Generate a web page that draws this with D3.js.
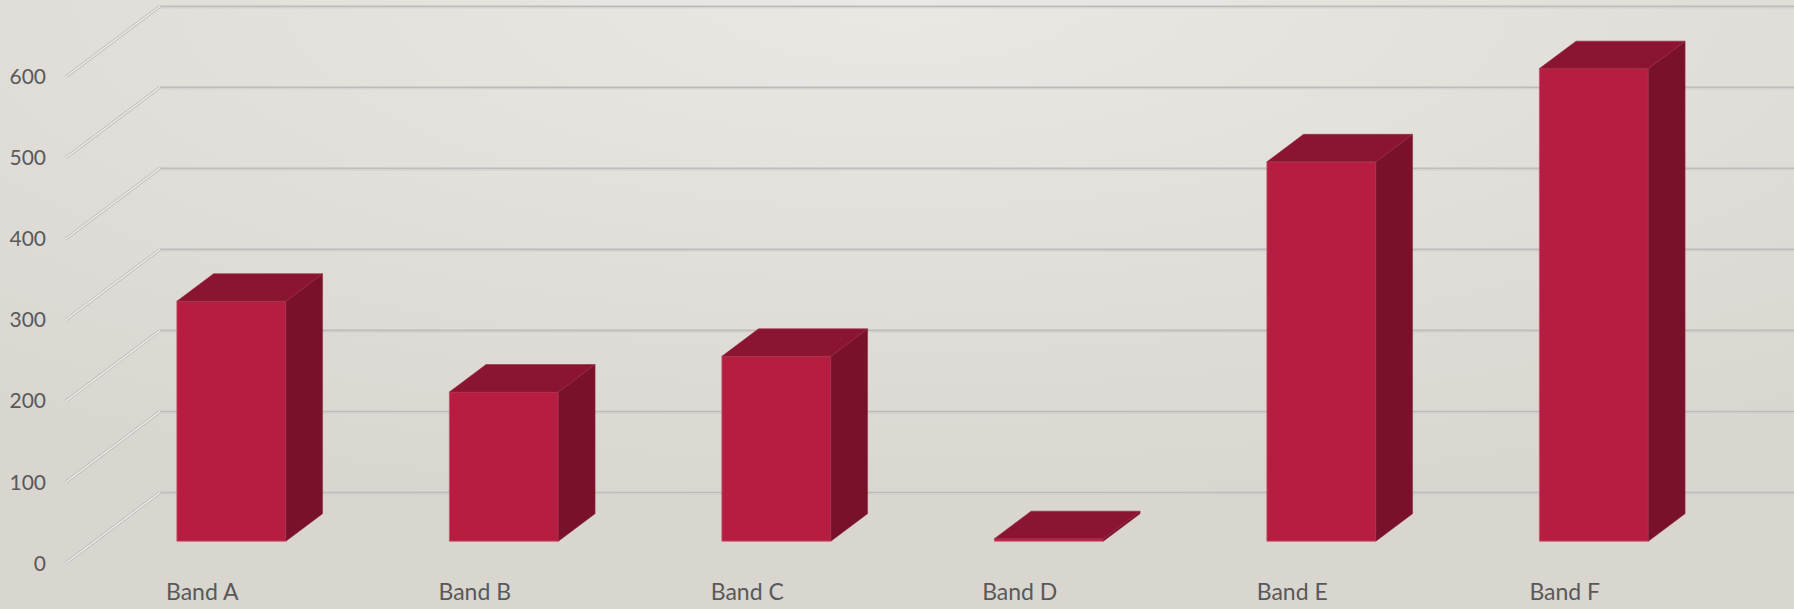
<html>
<head>
<style>
body { margin: 0; overflow: hidden; }
.tick-label { font-family: Lato, "Open Sans", sans-serif; font-size: 21px; fill: #595959; }
.cat-label { font-family: Lato, "Open Sans", sans-serif; font-size: 23px; fill: #595959; }
</style>
</head>
<body>
<svg width="1794" height="609"></svg>
<script src="https://d3js.org/d3.v7.min.js"></script>
<script>
var categories = ["Band A", "Band B", "Band C", "Band D", "Band E", "Band F"]
var values = [296, 184, 228, 3, 468, 583]
var yTicks = [0, 100, 200, 300, 400, 500, 600]

const width = 1794
const height = 609

// oblique 3d: front plane origin and full depth offset
const x0 = 66
const depthX = 94
const depthY = -70.5
const barZ0 = 0.31
const barZ1 = 0.70

const svg = d3.select('svg')

const defs = svg.append('defs')
const grad = defs.append('radialGradient')
    .attr('id', 'bg')
    .attr('cx', '50%').attr('cy', '0%').attr('r', '85%')
grad.append('stop').attr('offset', '0%').attr('stop-color', '#eae8e4')
grad.append('stop').attr('offset', '100%').attr('stop-color', '#d9d6d0')

svg.append('rect')
    .attr('width', width).attr('height', height)
    .attr('fill', 'url(#bg)')

const x = d3.scaleBand()
    .domain(categories)
    .range([0, 1635])
    .paddingInner(0.6)
    .paddingOuter(0.3)

const y = d3.scaleLinear()
    .domain([0, 600])
    .range([563, 76.7])

function proj(xu, v, z) {
    return [x0 + xu + z * depthX, y(v) + z * depthY]
}

// back wall grid lines
const grid = svg.append('g')
grid.selectAll('.gl')
    .data(yTicks)
    .enter().append('line')
    .attr('x1', x0 + depthX).attr('x2', width)
    .attr('y1', function (d) { return y(d) + depthY })
    .attr('y2', function (d) { return y(d) + depthY })
    .attr('stroke', '#bcbcbc')
    .attr('stroke-width', 1.6)
grid.selectAll('.gl2')
    .data(yTicks)
    .enter().append('line')
    .attr('x1', x0 + depthX).attr('x2', width)
    .attr('y1', function (d) { return y(d) + depthY + 1.6 })
    .attr('y2', function (d) { return y(d) + depthY + 1.6 })
    .attr('stroke', '#cfcdca')
    .attr('stroke-width', 1)

// side wall diagonals (embossed double line)
grid.selectAll('.diag')
    .data(yTicks)
    .enter().append('line')
    .attr('x1', x0).attr('y1', function (d) { return y(d) })
    .attr('x2', x0 + depthX).attr('y2', function (d) { return y(d) + depthY })
    .attr('stroke', '#bdbdbd')
    .attr('stroke-width', 3)
grid.selectAll('.diag2')
    .data(yTicks)
    .enter().append('line')
    .attr('x1', x0).attr('y1', function (d) { return y(d) })
    .attr('x2', x0 + depthX).attr('y2', function (d) { return y(d) + depthY })
    .attr('stroke', '#f2f1ee')
    .attr('stroke-width', 1.2)

// tick labels
svg.append('g').selectAll('text')
    .data(yTicks)
    .enter().append('text')
    .attr('class', 'tick-label')
    .attr('x', 46)
    .attr('y', function (d) { return y(d) })
    .attr('dy', '0.36em')
    .attr('text-anchor', 'end')
    .text(function (d) { return d })

// bars
const bars = svg.append('g').selectAll('g')
    .data(categories.map(function (c, i) { return { cat: c, value: values[i] } }))
    .enter().append('g')

function pts(arr) { return arr.map(function (p) { return p.join(',') }).join(' ') }

bars.append('polygon')
    .attr('points', function (d) {
        const l = x(d.cat), r = x(d.cat) + x.bandwidth()
        return pts([proj(l, 0, barZ0), proj(r, 0, barZ0), proj(r, d.value, barZ0), proj(l, d.value, barZ0)])
    })
    .attr('fill', '#b71d41')
    .attr('stroke', '#c9536d')
    .attr('stroke-width', 0.8)

bars.append('polygon')
    .attr('points', function (d) {
        const r = x(d.cat) + x.bandwidth()
        return pts([proj(r, 0, barZ0), proj(r, 0, barZ1), proj(r, d.value, barZ1), proj(r, d.value, barZ0)])
    })
    .attr('fill', '#79112a')
    .attr('stroke', '#8a2a40')
    .attr('stroke-width', 0.6)

bars.append('polygon')
    .attr('points', function (d) {
        const l = x(d.cat), r = x(d.cat) + x.bandwidth()
        return pts([proj(l, d.value, barZ0), proj(r, d.value, barZ0), proj(r, d.value, barZ1), proj(l, d.value, barZ1)])
    })
    .attr('fill', '#8b1530')
    .attr('stroke', '#94293f')
    .attr('stroke-width', 0.6)

// category labels
svg.append('g').selectAll('text')
    .data(categories)
    .enter().append('text')
    .attr('class', 'cat-label')
    .attr('x', function (d) { return x0 + x(d) + x.bandwidth() / 2 })
    .attr('y', 600)
    .attr('text-anchor', 'middle')
    .text(function (d) { return d })
</script>
</body>
</html>
